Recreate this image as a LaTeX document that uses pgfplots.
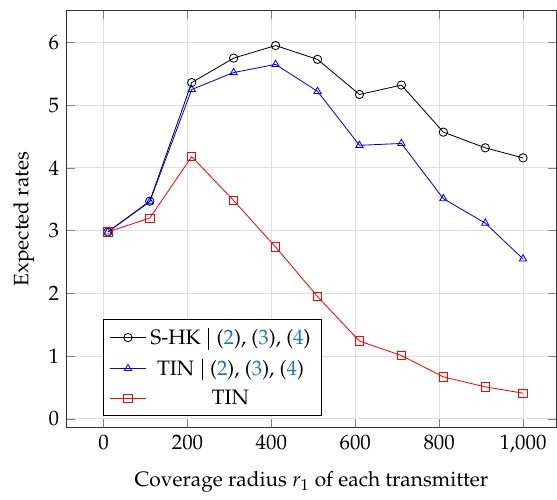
\documentclass[border=0pt]{standalone}
\usepackage[T1]{fontenc}
\usepackage{mathpazo}
\usepackage{xcolor}
\usepackage{pgfplots}
\pgfplotsset{compat=1.18}
\definecolor{citec}{RGB}{31,119,180}
\newcommand{\cn}[1]{\textcolor{citec}{#1}}
\newcommand{\vbar}{\hspace{3.6pt}\rule[-2.6pt]{0.45pt}{10.4pt}\hspace{3.6pt}}
\begin{document}
\begin{tikzpicture}
\begin{axis}[
  scale only axis,
  width=235pt, height=200pt,
  xmin=-89, xmax=1080,
  ymin=-0.14, ymax=6.51,
  xtick={0,200,400,600,800,1000},
  ytick={0,1,2,3,4,5,6},
  grid=major,
  grid style={black!12},
  axis line style={black!80},
  xlabel={Coverage radius $r_1$ of each transmitter},
  ylabel={Expected rates},
  xlabel style={yshift=-2pt},
  legend cell align=center,
  legend style={at={(0.075,0.028)}, anchor=south west, font=\normalsize, row sep=1.5pt},
]
\addplot[color=black, mark=o] coordinates {
(10,2.98) (110,3.47) (210,5.36) (310,5.75) (410,5.95) (510,5.73) (610,5.17) (710,5.32) (810,4.57) (910,4.32) (1000,4.16)};
\addlegendentry{S-HK\vbar(\cn{2}), (\cn{3}), (\cn{4})}
\addplot[color=blue, mark=triangle] coordinates {
(10,2.98) (110,3.46) (210,5.25) (310,5.52) (410,5.65) (510,5.22) (610,4.36) (710,4.39) (810,3.51) (910,3.12) (1000,2.55)};
\addlegendentry{TIN\vbar(\cn{2}), (\cn{3}), (\cn{4})}
\addplot[color=red, mark=square] coordinates {
(10,2.98) (110,3.20) (210,4.18) (310,3.48) (410,2.74) (510,1.95) (610,1.24) (710,1.01) (810,0.67) (910,0.51) (1000,0.41)};
\addlegendentry{TIN}
\end{axis}
\path (current axis.north) ++(0,5pt);
\path (current bounding box.west) ++(-3pt,0);
\end{tikzpicture}
\end{document}
